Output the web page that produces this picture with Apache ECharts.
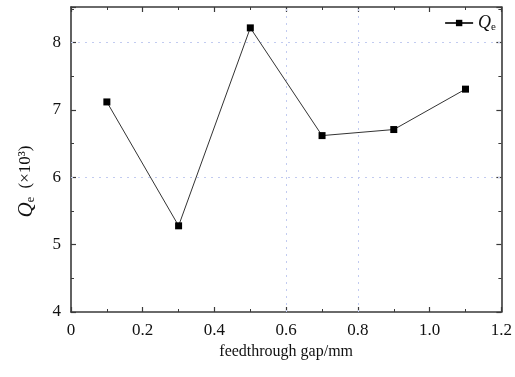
<!DOCTYPE html>
<html>
<head>
<meta charset="utf-8">
<script src="https://cdn.jsdelivr.net/npm/echarts@6/dist/echarts.min.js"></script>
<style>html,body{margin:0;padding:0;background:#fff}#c{width:515px;height:377px}</style>
</head>
<body>
<div id="c"></div>
<script>
const gaps = [0.1, 0.3, 0.5, 0.7, 0.9, 1.1];
const qe = [7.12, 5.28, 8.22, 6.62, 6.71, 7.31];
const gridY = [6, 8];
const gridX = [0.6, 0.8];

const FONT = '"Liberation Serif", "DejaVu Serif", serif';
const AX = '#3a3a3a';
const chart = echarts.init(document.getElementById('c'));

const common = {
  axisLine: { show: true, onZero: false, lineStyle: { color: AX, width: 1.6 } },
  axisTick: { show: true, inside: true, length: 5, lineStyle: { color: AX, width: 1.2 } },
  minorTick: { show: true, splitNumber: 2, length: 3, lineStyle: { color: AX, width: 1 } },
  splitLine: { show: false }
};

chart.setOption({
  animation: false,
  backgroundColor: '#fff',
  grid: { left: 71, right: 13, top: 7, bottom: 65, containLabel: false },
  legend: {
    right: 14, top: 9,
    itemWidth: 28, itemHeight: 8, itemGap: 2,
    data: ['Qe'],
    formatter: () => '{q|Q}{s|e}',
    textStyle: {
      fontFamily: FONT, color: '#111',
      rich: {
        q: { fontFamily: FONT, fontStyle: 'italic', fontSize: 18, color: '#111' },
        s: { fontFamily: FONT, fontSize: 11, color: '#111', verticalAlign: 'bottom', padding: [9, 0, 0, 0] }
      }
    }
  },
  xAxis: [
    Object.assign({}, common, {
      type: 'value', min: 0, max: 1.2, interval: 0.2, position: 'bottom',
      name: 'feedthrough gap/mm', nameLocation: 'middle', nameGap: 32,
      nameTextStyle: { fontFamily: FONT, fontSize: 16, color: '#111' },
      axisLabel: { fontFamily: FONT, fontSize: 17, color: '#111', margin: 10,
        formatter: v => v === 0 ? '0' : v.toFixed(1) }
    }),
    Object.assign({}, common, {
      type: 'value', min: 0, max: 1.2, interval: 0.2, position: 'top',
      axisLabel: { show: false }
    })
  ],
  yAxis: [
    Object.assign({}, common, {
      type: 'value', min: 4, max: 8.53, interval: 1, position: 'left',
      name: '{q|Q}{s|e}{t|  (×10³)}', nameLocation: 'middle', nameGap: 34, nameRotate: 90,
      nameTextStyle: {
        fontFamily: FONT, fontSize: 16, color: '#111', padding: [0, 44, 0, 0],
        rich: {
          q: { fontFamily: FONT, fontStyle: 'italic', fontSize: 21, color: '#111' },
          s: { fontFamily: FONT, fontSize: 12, color: '#111', verticalAlign: 'bottom', padding: [10, 0, 0, 0] },
          t: { fontFamily: FONT, fontSize: 17, color: '#111' }
        }
      },
      axisLabel: { fontFamily: FONT, fontSize: 17, color: '#111', margin: 10, showMaxLabel: false }
    }),
    Object.assign({}, common, {
      type: 'value', min: 4, max: 8.53, interval: 1, position: 'right',
      axisLabel: { show: false }
    })
  ],
  series: [{
    name: 'Qe', type: 'line',
    data: gaps.map((g, i) => [g, qe[i]]),
    symbol: 'rect', symbolSize: 7,
    itemStyle: { color: '#000' },
    lineStyle: { color: '#333', width: 1 },
    markLine: {
      silent: true, symbol: 'none', label: { show: false },
      lineStyle: { color: '#c2cbf0', type: [2, 5], width: 1 },
      data: gridY.map(v => ({ yAxis: v })).concat(gridX.map(v => ({ xAxis: v })))
    },
    z: 5
  }]
});
</script>
</body>
</html>
